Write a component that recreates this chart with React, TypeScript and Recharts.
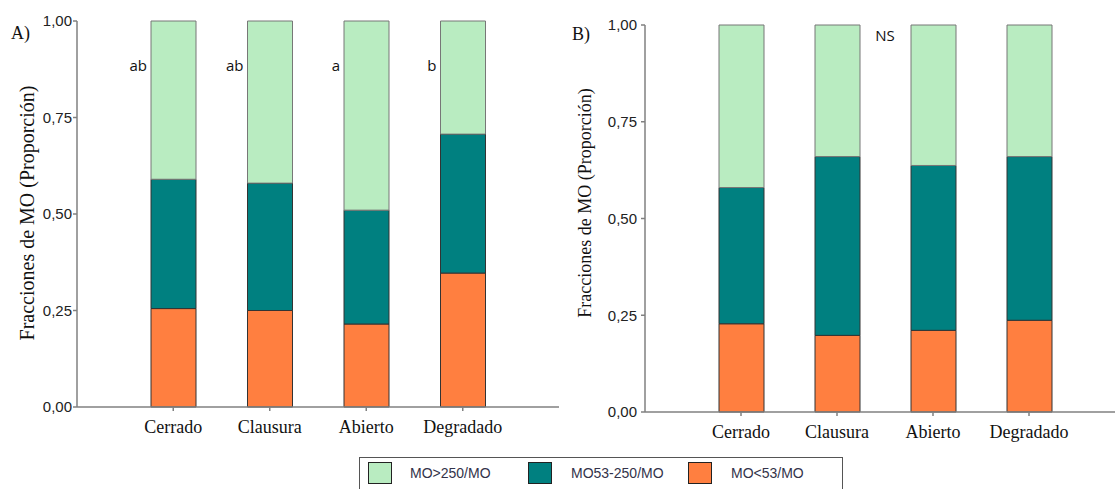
import { BarChart, Bar, XAxis, YAxis, LabelList } from 'recharts';

const categories = ['Cerrado', 'Clausura', 'Abierto', 'Degradado'];

// Panel A (proportions per fraction)
const lowA = [0.255, 0.25, 0.215, 0.347];
const midA = [0.335, 0.33, 0.295, 0.36];
const highA = [0.41, 0.42, 0.49, 0.293];
const lettersA = ['ab', 'ab', 'a', 'b'];

// Panel B
const lowB = [0.228, 0.198, 0.211, 0.237];
const midB = [0.352, 0.462, 0.426, 0.423];
const highB = [0.42, 0.34, 0.363, 0.34];

const yTicks = [0, 0.25, 0.5, 0.75, 1];
const seriesNames = ['MO>250/MO', 'MO53-250/MO', 'MO<53/MO'];
const seriesColors = ['#b9ecc1', '#008080', '#ff7f40'];

const fmt = (v: number) => v.toFixed(2).replace('.', ',');

const build = (low: number[], mid: number[], high: number[], letters?: string[]) =>
  categories.map((name, i) => ({
    name,
    low: low[i],
    mid: mid[i],
    high: high[i],
    letter: letters ? letters[i] : '',
  }));

const dataA = build(lowA, midA, highA, lettersA);
const dataB = build(lowB, midB, highB);

const axisColor = '#808080';
const serif = '"Liberation Serif", "Times New Roman", serif';
const sans = '"Liberation Sans", Arial, sans-serif';

function Panel({ data, width, yAxisWidth, top, bottom, tickMargin, letters }: any) {
  return (
    <BarChart
      width={width}
      height={450}
      data={data}
      margin={{ top, right: 1, left: 0, bottom }}
      barSize={45}
    >
      <XAxis
        dataKey="name"
        padding={{ left: 48, right: 48 }}
        height={30}
        tickSize={4}
        tickMargin={9}
        stroke={axisColor}
        strokeWidth={1.5}
        tick={{ fill: '#111', fontFamily: serif, fontSize: 18 }}
      />
      <YAxis
        domain={[0, 1]}
        ticks={yTicks}
        width={yAxisWidth}
        tickSize={4}
        tickMargin={tickMargin}
        tickFormatter={fmt}
        stroke={axisColor}
        strokeWidth={1.5}
        tick={{ fill: '#222', fontFamily: sans, fontSize: 15 }}
      />
      <Bar dataKey="low" stackId="s" fill={seriesColors[2]} stroke="#333" strokeWidth={1} isAnimationActive={false} />
      <Bar dataKey="mid" stackId="s" fill={seriesColors[1]} stroke="#333" strokeWidth={1} isAnimationActive={false} />
      <Bar dataKey="high" stackId="s" fill={seriesColors[0]} stroke="#777" strokeWidth={1} isAnimationActive={false}>
        {letters && (
          <LabelList
            dataKey="letter"
            content={(p: any) => (
              <text
                x={p.x - 4}
                y={p.y + 44}
                textAnchor="end"
                dominantBaseline="central"
                fontFamily='"Open Sans", sans-serif'
                fontSize={15}
                fill="#111"
              >
                {p.value}
              </text>
            )}
          />
        )}
      </Bar>
    </BarChart>
  );
}

export default function App() {
  return (
    <div
      style={{
        position: 'absolute',
        left: 0,
        top: 0,
        width: 1115,
        height: 489,
        overflow: 'hidden',
        background: '#fff',
      }}
    >
      <div style={{ position: 'absolute', left: 0, top: 0 }}>
        <Panel data={dataA} width={560} yAxisWidth={77} top={21} bottom={13} tickMargin={1} letters />
      </div>
      <div style={{ position: 'absolute', left: 560, top: 0 }}>
        <Panel data={dataB} width={566} yAxisWidth={85} top={25} bottom={8} tickMargin={4} />
      </div>

      <svg width={1115} height={489} style={{ position: 'absolute', left: 0, top: 0, pointerEvents: 'none' }}>
        <text x={11} y={33} fontFamily={serif} fontSize={18} dominantBaseline="central" fill="#111">A)</text>
        <text x={572} y={34} fontFamily={serif} fontSize={18} dominantBaseline="central" fill="#111">B)</text>
        <text x={885} y={35} fontFamily='"Open Sans", sans-serif' fontSize={15} textAnchor="middle" dominantBaseline="central" fill="#111">NS</text>
        <text
          transform="translate(27,213) rotate(-90)"
          fontFamily={serif}
          fontSize={20}
          textAnchor="middle"
          dominantBaseline="central"
          fill="#111"
        >
          Fracciones de MO (Proporción)
        </text>
        <text
          transform="translate(585,203) rotate(-90)"
          fontFamily={serif}
          fontSize={18}
          textAnchor="middle"
          dominantBaseline="central"
          fill="#111"
        >
          Fracciones de MO (Proporción)
        </text>
      </svg>

      <div
        style={{
          position: 'absolute',
          left: 359,
          top: 457,
          width: 482,
          height: 40,
          border: '1.5px solid #555',
          fontFamily: sans,
          fontSize: 14,
          color: '#33334a',
        }}
      >
        {seriesNames.map((n, i) => (
          <div key={n} style={{ position: 'absolute', left: [8, 168, 328][i], top: 4, display: 'flex', alignItems: 'center' }}>
            <div style={{ width: 24, height: 22, background: seriesColors[i], border: '1.5px solid #222', boxSizing: 'border-box' }} />
            <span style={{ marginLeft: [18, 19, 19][i] }}>{n}</span>
          </div>
        ))}
      </div>
    </div>
  );
}
